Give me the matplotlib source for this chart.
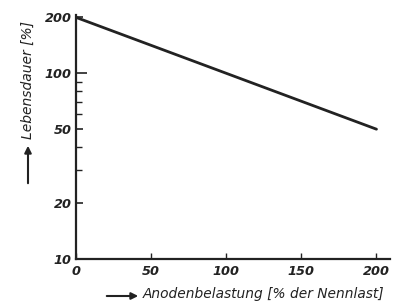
import matplotlib
matplotlib.use("Agg")
import matplotlib.pyplot as plt
from matplotlib.ticker import FixedLocator, NullFormatter

# Data
load_pct = [0, 200]
life_pct = [200, 50]
x_ticks = [0, 50, 100, 150, 200]
y_ticks = [10, 20, 50, 100, 200]
y_minor = [30, 40, 60, 70, 80, 90]

W, H = 404, 306
fig = plt.figure(figsize=(W / 100, H / 100), dpi=100)
ax = fig.add_axes([76 / W, 1 - 259 / H, (390 - 76) / W, (259 - 15) / H])

ax.plot(load_pct, life_pct, color="#222222", lw=2.0, solid_capstyle="round")
ax.set_yscale("log")
ax.set_xlim(0, 209)
ax.set_ylim(10, 206)

for s in ["top", "right"]:
    ax.spines[s].set_visible(False)
for s in ["left", "bottom"]:
    ax.spines[s].set_linewidth(1.6)
    ax.spines[s].set_color("#222222")

ax.yaxis.set_major_locator(FixedLocator(y_ticks))
ax.yaxis.set_minor_locator(FixedLocator(y_minor))
ax.yaxis.set_minor_formatter(NullFormatter())
ax.set_yticklabels([str(v) for v in y_ticks])
ax.set_xticks(x_ticks)
ax.set_xticklabels([str(v) for v in x_ticks])

tfont = dict(family="DejaVu Sans", style="italic", weight="bold", size=9.3)
for lab in ax.get_xticklabels() + ax.get_yticklabels():
    lab.set_fontproperties(matplotlib.font_manager.FontProperties(**tfont))
    lab.set_color("#222222")

ax.tick_params(axis="y", which="major", direction="in", length=5, width=1.2, pad=3, color="#222222")
ax.tick_params(axis="y", which="minor", direction="in", length=4, width=1.0, color="#222222")
ax.tick_params(axis="x", which="major", direction="in", length=4, width=1.0, pad=4, color="#222222")
ax.yaxis.get_major_ticks()[3].tick1line.set_markersize(8)

# y label with arrow
fig.text(28 / W, 1 - 80 / H, "Lebensdauer [%]", rotation=90, ha="center", va="center",
         family="DejaVu Sans", style="italic", size=10, color="#222222")
fig.add_artist(matplotlib.patches.FancyArrowPatch((28 / W, 1 - 186 / H), (28 / W, 1 - 143 / H),
               transform=fig.transFigure, arrowstyle="-|>,head_length=4,head_width=2",
               lw=1.5, color="#222222", mutation_scale=1))

# x label with arrow
fig.text(143 / W, 1 - 294 / H, "Anodenbelastung [% der Nennlast]", ha="left", va="center",
         family="DejaVu Sans", style="italic", size=9.9, color="#222222")
fig.add_artist(matplotlib.patches.FancyArrowPatch((104 / W, 1 - 296 / H), (141 / W, 1 - 296 / H),
               transform=fig.transFigure, arrowstyle="-|>,head_length=4,head_width=2",
               lw=1.5, color="#222222", mutation_scale=1))

fig.savefig("out.png", dpi=100)
